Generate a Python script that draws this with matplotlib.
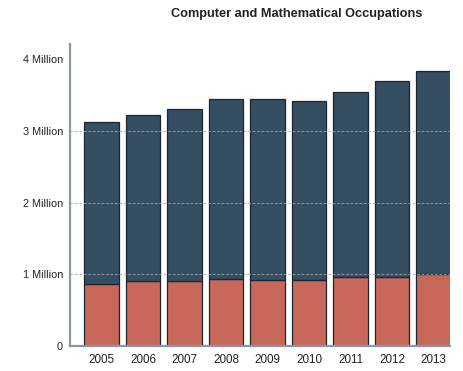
import matplotlib.pyplot as plt
import numpy as np

plt.rcParams['font.family'] = ['Liberation Sans', 'DejaVu Sans']

# Employment in computer and mathematical occupations, millions
years = ['2005', '2006', '2007', '2008', '2009', '2010', '2011', '2012', '2013']
totals = [3.12, 3.22, 3.31, 3.44, 3.44, 3.41, 3.54, 3.69, 3.84]
women = [0.86, 0.90, 0.91, 0.93, 0.92, 0.92, 0.96, 0.96, 1.01]
men = [t - w for t, w in zip(totals, women)]

yticks = [0, 1, 2, 3, 4]
ylabels = ['0', '1 Million', '2 Million', '3 Million', '4 Million']

dark = '#364e61'
red = '#c8685a'
edge = '#1c2631'
axis_col = '#8797a6'

fig = plt.figure(figsize=(4.63, 3.71), dpi=100)
ax = fig.add_axes([70 / 463, 1 - 346 / 371, 380 / 463, 302 / 371])

x = np.arange(len(years))
ax.bar(x, women, width=0.84, color=red, edgecolor=edge, linewidth=0.9, zorder=2)
ax.bar(x, men, bottom=women, width=0.84, color=dark, edgecolor=edge, linewidth=0.9, zorder=2)

ax.set_xlim(-0.759, 8.398)
ax.set_ylim(0, 4.21)

# dotted guides at 1-3 million, drawn over the bars
for t in yticks[1:-1]:
    ax.axhline(t, color='#a3acb4', linestyle=(0, (2.5, 1.5)), linewidth=0.8, alpha=0.75, zorder=3)

ax.set_yticks(yticks)
ax.set_yticklabels(ylabels)
ax.set_xticks(x)
ax.set_xticklabels(years)
ax.tick_params(axis='both', length=0, colors='#222222')
ax.tick_params(axis='y', pad=5, labelsize=7.8)
ax.tick_params(axis='x', pad=6, labelsize=8.4)

for side in ['top', 'right']:
    ax.spines[side].set_visible(False)
ax.spines['left'].set_color(axis_col)
ax.spines['left'].set_linewidth(1.6)
ax.spines['bottom'].set_color(axis_col)
ax.spines['bottom'].set_linewidth(1.6)
ax.spines['bottom'].set_zorder(4)

fig.text(297 / 463, 1 - 14 / 371, 'Computer and Mathematical Occupations',
         ha='center', va='center', fontsize=9.2, fontweight='heavy', color='#222222')

fig.savefig('out.png', dpi=100)
